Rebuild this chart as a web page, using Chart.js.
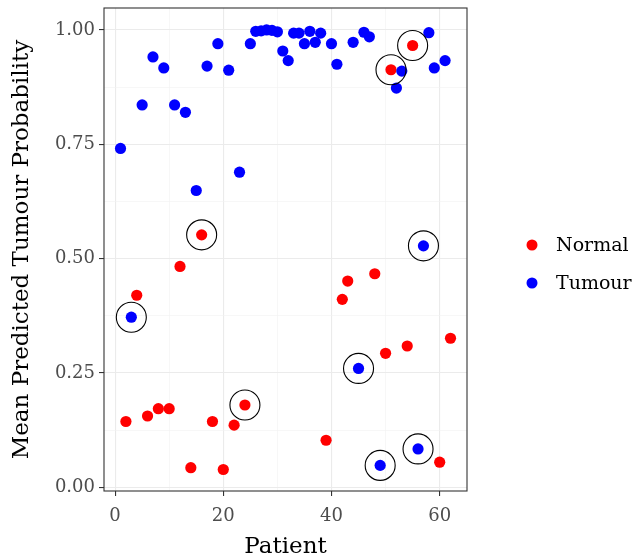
<!DOCTYPE html>
<html>
<head>
<meta charset="utf-8">
<script src="https://cdn.jsdelivr.net/npm/chart.js@4.4.1/dist/chart.umd.min.js"></script>
<style>
  html, body { margin: 0; padding: 0; background: #ffffff; }
  #wrap { width: 634px; height: 556px; }
</style>
</head>
<body>
<div id="wrap"><canvas id="c" width="634" height="556"></canvas></div>
<script>
// ---- data ----
const normalPatients = [2, 4, 6, 8, 10, 12, 14, 16, 18, 20, 22, 24, 39, 42, 43, 48, 50, 51, 54, 55, 60, 62];
const normalValues   = [0.144, 0.420, 0.156, 0.172, 0.172, 0.483, 0.043, 0.552, 0.144, 0.039, 0.136, 0.180,
                        0.103, 0.411, 0.451, 0.467, 0.293, 0.913, 0.309, 0.966, 0.055, 0.326];
const tumourPatients = [1, 3, 5, 7, 9, 11, 13, 15, 17, 19, 21, 23, 25, 26, 27, 28, 29, 30, 31, 32, 33, 34, 35,
                        36, 37, 38, 40, 41, 44, 45, 46, 47, 49, 52, 53, 56, 57, 58, 59, 61];
const tumourValues   = [0.741, 0.372, 0.836, 0.941, 0.917, 0.836, 0.820, 0.649, 0.921, 0.970, 0.912, 0.689,
                        0.970, 0.997, 0.998, 1.000, 0.999, 0.996, 0.954, 0.933, 0.993, 0.993, 0.970, 0.997,
                        0.973, 0.993, 0.970, 0.925, 0.973, 0.260, 0.995, 0.985, 0.048, 0.873, 0.910, 0.084,
                        0.528, 0.994, 0.917, 0.933];
const circledPatients = [3, 16, 24, 45, 49, 51, 55, 56, 57];
const seriesNames = ['Normal', 'Tumour'];
const seriesColors = ['#FF0000', '#0000FF'];
const xTickValues = [0, 10, 20, 30, 40, 50, 60];
const xMajorTicks = [0, 20, 40, 60];
const yTickValues = [0, 0.125, 0.25, 0.375, 0.5, 0.625, 0.75, 0.875, 1.0];
const yMajorTicks = [0, 0.25, 0.5, 0.75, 1.0];

// ---- build datasets ----
const toPts = (xs, ys) => xs.map((x, i) => ({ x: x, y: ys[i] }));
const normalPts = toPts(normalPatients, normalValues);
const tumourPts = toPts(tumourPatients, tumourValues);
const allPts = normalPts.concat(tumourPts);
const circlePts = circledPatients.map(p => allPts.find(d => d.x === p));

const SERIF = '"DejaVu Serif", "Liberation Serif", serif';

const panelBorder = {
  id: 'panelBorder',
  afterDatasetsDraw(chart) {
    const a = chart.chartArea, ctx = chart.ctx;
    ctx.save();
    ctx.strokeStyle = '#333333';
    ctx.lineWidth = 1.1;
    ctx.strokeRect(a.left, a.top, a.right - a.left, a.bottom - a.top);
    ctx.restore();
  }
};

const customLegend = {
  id: 'customLegend',
  afterDraw(chart) {
    const ctx = chart.ctx;
    ctx.save();
    ctx.font = '19px ' + SERIF;
    ctx.textBaseline = 'middle';
    ctx.textAlign = 'left';
    const ys = [245, 283];
    seriesNames.forEach((name, i) => {
      ctx.fillStyle = seriesColors[i];
      ctx.beginPath();
      ctx.arc(532, ys[i], 5.5, 0, Math.PI * 2);
      ctx.fill();
      ctx.fillStyle = '#000000';
      ctx.fillText(name, 556, ys[i] + 1);
    });
    ctx.restore();
  }
};

const isMajor = (v, list) => list.some(m => Math.abs(m - v) < 1e-9);

new Chart(document.getElementById('c'), {
  type: 'scatter',
  data: {
    datasets: [
      {
        label: 'misclassified',
        data: circlePts,
        pointRadius: 15,
        pointBorderWidth: 1.1,
        pointBorderColor: '#000000',
        pointBackgroundColor: 'rgba(0,0,0,0)',
        pointHoverRadius: 15
      },
      {
        label: seriesNames[1],
        data: tumourPts,
        pointRadius: 5.6,
        pointBorderWidth: 0,
        pointBackgroundColor: seriesColors[1],
        pointBorderColor: seriesColors[1],
        pointHoverRadius: 5.6
      },
      {
        label: seriesNames[0],
        data: normalPts,
        pointRadius: 5.6,
        pointBorderWidth: 0,
        pointBackgroundColor: seriesColors[0],
        pointBorderColor: seriesColors[0],
        pointHoverRadius: 5.6
      }
    ]
  },
  options: {
    responsive: false,
    animation: false,
    events: [],
    layout: { autoPadding: false, padding: { top: 8, right: 167, left: 0, bottom: 0 } },
    plugins: { legend: { display: false }, tooltip: { enabled: false } },
    scales: {
      x: {
        type: 'linear',
        min: -2.05,
        max: 65.05,
        afterBuildTicks(s) { s.ticks = xTickValues.map(v => ({ value: v })); },
        afterFit(s) { s.height = 65; s.paddingLeft = 0; s.paddingRight = 0; },
        border: { display: false },
        grid: {
          color: ctx => isMajor(ctx.tick.value, xMajorTicks) ? '#EBEBEB' : '#F2F2F2',
          lineWidth: ctx => isMajor(ctx.tick.value, xMajorTicks) ? 1.1 : 0.6,
          tickColor: ctx => isMajor(ctx.tick.value, xMajorTicks) ? '#333333' : 'rgba(0,0,0,0)',
          tickLength: 5,
          tickWidth: 1.1
        },
        ticks: {
          autoSkip: false,
          maxRotation: 0,
          padding: 10,
          color: '#4D4D4D',
          font: { family: SERIF, size: 18 },
          callback: v => isMajor(v, xMajorTicks) ? String(v) : ''
        },
        title: {
          display: true,
          text: 'Patient',
          color: '#000000',
          font: { family: SERIF, size: 23 },
          padding: { top: 0, bottom: -5 }
        }
      },
      y: {
        type: 'linear',
        min: -0.008,
        max: 1.048,
        afterBuildTicks(s) { s.ticks = yTickValues.map(v => ({ value: v })); },
        afterFit(s) { s.width = 104; s.paddingTop = 0; s.paddingBottom = 0; },
        border: { display: false },
        grid: {
          color: ctx => isMajor(ctx.tick.value, yMajorTicks) ? '#EBEBEB' : '#F2F2F2',
          lineWidth: ctx => isMajor(ctx.tick.value, yMajorTicks) ? 1.1 : 0.6,
          tickColor: ctx => isMajor(ctx.tick.value, yMajorTicks) ? '#333333' : 'rgba(0,0,0,0)',
          tickLength: 5,
          tickWidth: 1.1
        },
        ticks: {
          autoSkip: false,
          padding: 4,
          color: '#4D4D4D',
          font: { family: SERIF, size: 18 },
          callback: v => isMajor(v, yMajorTicks) ? v.toFixed(2) : ''
        },
        title: {
          display: true,
          text: 'Mean Predicted Tumour Probability',
          color: '#000000',
          font: { family: SERIF, size: 23 },
          padding: { top: 8, bottom: 0 }
        }
      }
    }
  },
  plugins: [panelBorder, customLegend]
});
</script>
</body>
</html>
